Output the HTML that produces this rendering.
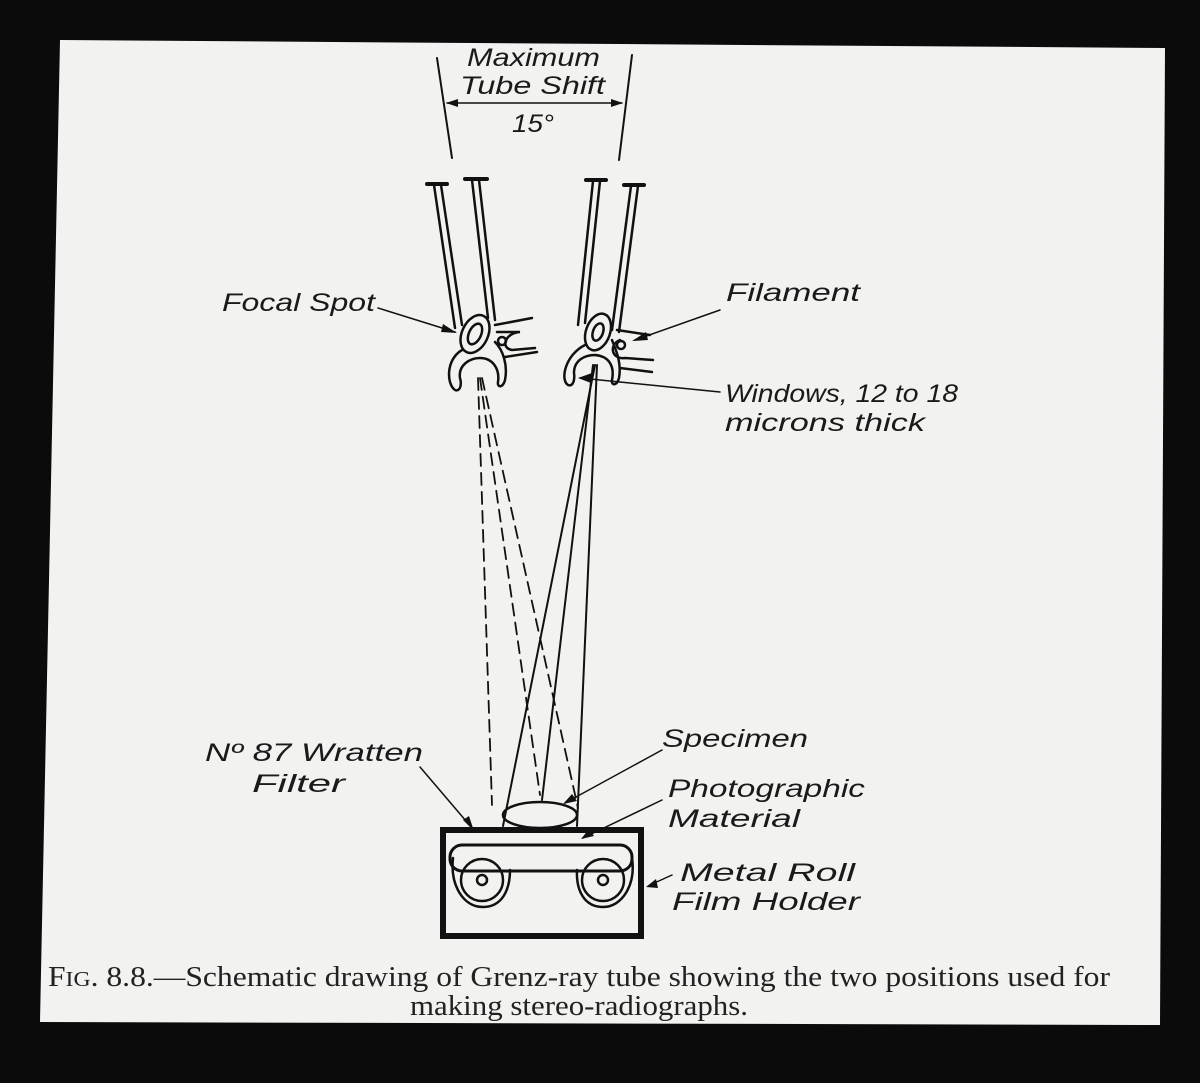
<!DOCTYPE html>
<html><head><meta charset="utf-8"><style>
html,body{margin:0;padding:0;background:#0a0a0a;}
svg{display:block}
.l{font-family:"Liberation Sans",sans-serif;font-style:italic;font-size:25px;fill:#1a1a1a}
.c{font-family:"Liberation Serif",serif;font-size:28px;fill:#222}
</style></head><body>
<svg width="1200" height="1083" viewBox="0 0 1200 1083" xmlns="http://www.w3.org/2000/svg">
<rect width="1200" height="1083" fill="#0b0b0b"/>
<polygon points="60,40 1165,48 1160,1025 40,1022" fill="#f2f2f0"/>
<g stroke="#111" fill="none" stroke-width="2.5" stroke-linecap="round">
<line x1="437" y1="58" x2="452" y2="158" stroke-width="2"/>
<line x1="632" y1="55" x2="619" y2="160" stroke-width="2"/>
<line x1="447" y1="103" x2="622" y2="103" stroke-width="1.5"/>
<polygon points="446,103 458,99 458,107" fill="#111" stroke="none"/>
<polygon points="623,103 611,99 611,107" fill="#111" stroke="none"/>
<line x1="427" y1="184" x2="447" y2="184" stroke-width="4"/>
<line x1="434" y1="185" x2="455" y2="328"/><line x1="441" y1="185" x2="462" y2="325"/>
<line x1="465" y1="179" x2="487" y2="179" stroke-width="4"/>
<line x1="472" y1="180" x2="488" y2="318"/><line x1="479" y1="180" x2="495" y2="320"/>
<ellipse cx="475" cy="334" rx="13" ry="20" transform="rotate(25 475 334)"/>
<ellipse cx="475" cy="334" rx="6" ry="11" transform="rotate(25 475 334)"/>
<path d="M462,350 C445,360 447,385 455,390 C460,392 462,385 460,378 C458,365 470,358 480,358 C492,358 500,368 498,382 C497,388 503,388 505,380 C508,365 503,350 495,342"/>
<path d="M495,325 L532,318 M497,332 L520,332 C505,333 500,348 512,350 L535,348 M505,357 L537,352"/>
<circle cx="502" cy="341" r="4"/>
<line x1="586" y1="180" x2="606" y2="180" stroke-width="4"/>
<line x1="593" y1="181" x2="578" y2="325"/><line x1="600" y1="181" x2="585" y2="323"/>
<line x1="624" y1="185" x2="644" y2="185" stroke-width="4"/>
<line x1="631" y1="186" x2="612" y2="330"/><line x1="638" y1="186" x2="619" y2="332"/>
<ellipse cx="598" cy="332" rx="12" ry="19" transform="rotate(20 598 332)"/>
<ellipse cx="598" cy="332" rx="5" ry="9" transform="rotate(20 598 332)"/>
<path d="M585,345 C565,355 560,380 568,385 C573,387 575,380 574,373 C574,360 585,355 595,355 C608,356 615,365 612,380 C611,386 617,386 619,378 C622,362 615,348 612,340"/>
<path d="M617,330 L650,335 M620,340 C608,345 612,360 625,358 L653,360 M620,368 L652,372"/>
<circle cx="621" cy="345" r="4"/>
<g stroke-width="1.8" stroke-dasharray="12,7">
<line x1="478" y1="378" x2="492" y2="805"/>
<line x1="480" y1="378" x2="540" y2="795"/>
<line x1="482" y1="378" x2="578" y2="808"/>
</g>
<g stroke-width="2">
<line x1="595" y1="365" x2="503" y2="826"/>
<line x1="593" y1="365" x2="542" y2="800"/>
<line x1="597" y1="365" x2="577" y2="826"/>
</g>
<ellipse cx="540" cy="815" rx="37" ry="13"/>
<rect x="443" y="830" width="198" height="106" stroke-width="6"/>
<rect x="450" y="845" width="182" height="26" rx="12" stroke-width="3"/>
<path d="M453,858 C450,885 463,907 483,907 C502,907 510,890 510,870 M632,858 C636,885 622,907 603,907 C584,907 576,890 577,870"/>
<circle cx="482" cy="880" r="21"/><circle cx="482" cy="880" r="5"/>
<circle cx="603" cy="880" r="21"/><circle cx="603" cy="880" r="5"/>
<g stroke-width="1.5">
<line x1="378" y1="308" x2="455" y2="332"/>
<line x1="720" y1="310" x2="635" y2="340"/>
<line x1="720" y1="392" x2="580" y2="378"/>
<line x1="420" y1="767" x2="472" y2="828"/>
<line x1="662" y1="750" x2="565" y2="803"/>
<line x1="662" y1="800" x2="583" y2="838"/>
<line x1="672" y1="875" x2="650" y2="885"/>
</g>
<g fill="#111" stroke="none">
<polygon points="457,333 443,324 441,332"/>
<polygon points="632,341 646,332 648,340"/>
<polygon points="578,378 592,373 591,383"/>
<polygon points="474,831 463,820 469,816"/>
<polygon points="563,804 572,794 577,801"/>
<polygon points="581,839 589,829 594,836"/>
<polygon points="646,887 656,879 658,888"/>
</g>
</g>
<g class="l">
<text x="467" y="66" textLength="133" lengthAdjust="spacingAndGlyphs">Maximum</text>
<text x="460" y="94" textLength="145" lengthAdjust="spacingAndGlyphs">Tube Shift</text>
<text x="512" y="132" textLength="42" lengthAdjust="spacingAndGlyphs">15°</text>
<text x="222" y="311" textLength="153" lengthAdjust="spacingAndGlyphs">Focal Spot</text>
<text x="726" y="301" textLength="134" lengthAdjust="spacingAndGlyphs">Filament</text>
<text x="725" y="402" textLength="233" lengthAdjust="spacingAndGlyphs">Windows, 12 to 18</text>
<text x="725" y="431" textLength="200" lengthAdjust="spacingAndGlyphs">microns thick</text>
<text x="205" y="761" textLength="218" lengthAdjust="spacingAndGlyphs">Nº 87 Wratten</text>
<text x="252" y="792" textLength="93" lengthAdjust="spacingAndGlyphs">Filter</text>
<text x="662" y="747" textLength="146" lengthAdjust="spacingAndGlyphs">Specimen</text>
<text x="668" y="797" textLength="197" lengthAdjust="spacingAndGlyphs">Photographic</text>
<text x="668" y="827" textLength="132" lengthAdjust="spacingAndGlyphs">Material</text>
<text x="680" y="881" textLength="175" lengthAdjust="spacingAndGlyphs">Metal Roll</text>
<text x="672" y="910" textLength="188" lengthAdjust="spacingAndGlyphs">Film Holder</text>
</g>
<text class="c" x="48" y="986" textLength="1062" lengthAdjust="spacingAndGlyphs">F<tspan font-size="21">IG</tspan>. 8.8.—Schematic drawing of Grenz-ray tube showing the two positions used for</text>
<text class="c" x="410" y="1015" textLength="338" lengthAdjust="spacingAndGlyphs">making stereo-radiographs.</text>
</svg>
</body></html>
